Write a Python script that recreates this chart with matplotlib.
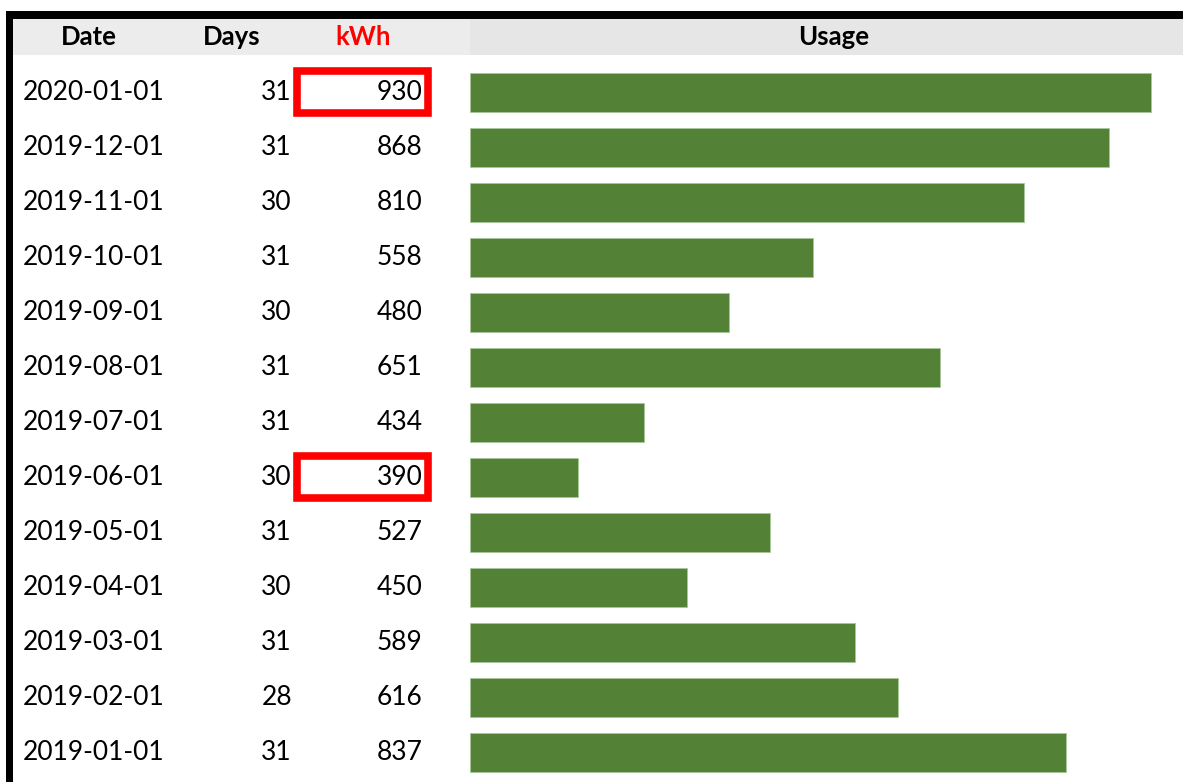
import matplotlib
matplotlib.use("Agg")
import matplotlib.pyplot as plt
from matplotlib.patches import Rectangle
import numpy as np

# ---- data ----
dates = ["2020-01-01", "2019-12-01", "2019-11-01", "2019-10-01", "2019-09-01",
         "2019-08-01", "2019-07-01", "2019-06-01", "2019-05-01", "2019-04-01",
         "2019-03-01", "2019-02-01", "2019-01-01"]
days = [31, 31, 30, 31, 30, 31, 31, 30, 31, 30, 31, 28, 31]
kwh = [930, 868, 810, 558, 480, 651, 434, 390, 527, 450, 589, 616, 837]
# bar lengths (percent of the longest bar)
usage_bar = [100.0, 93.8, 81.4, 50.3, 38.0, 69.0, 25.6, 15.9, 44.1, 31.8, 56.5, 62.8, 87.5]
headers = ["Date", "Days", "kWh", "Usage"]

W, H = 1183, 782
FONT = ["Lato", "DejaVu Sans"]
fig = plt.figure(figsize=(W / 100, H / 100), dpi=100)

# overlay axes in pixel layout coordinates
ov = fig.add_axes([0, 0, 1, 1])
ov.set_xlim(0, W)
ov.set_ylim(H, 0)
ov.axis("off")

row0, pitch = 92.0, 55.0
n = len(dates)

# header band
ov.add_patch(Rectangle((13.3, 19), 470 - 13.3, 36, facecolor="#ececec", edgecolor="none", zorder=1))
ov.add_patch(Rectangle((470, 19), W - 470, 36, facecolor="#e6e6e6", edgecolor="none", zorder=1))
# black frame
ov.add_patch(Rectangle((5.7, 10.7), W - 5.7, 8.3, facecolor="black", edgecolor="none", zorder=3))
ov.add_patch(Rectangle((5.7, 10.7), 7.6, H - 10.7, facecolor="black", edgecolor="none", zorder=3))

hy = 37
fs_h = 18.5
ov.text(88.5, hy, headers[0], ha="center", va="center", fontsize=fs_h, fontweight="bold", family=FONT, color="black", zorder=4)
ov.text(232, hy, headers[1], ha="center", va="center", fontsize=fs_h, fontweight="bold", family=FONT, color="black", zorder=4)
ov.text(363, hy, headers[2], ha="center", va="center", fontsize=fs_h, fontweight="bold", family=FONT, color="#ff0000", zorder=4)
ov.text(834, hy, headers[3], ha="center", va="center", fontsize=fs_h, fontweight="bold", family=FONT, color="black", zorder=4)

fs = 19
for i in range(n):
    y = row0 + pitch * i + 0.8
    ov.text(22.7, y, dates[i], ha="left", va="center", fontsize=fs, family=FONT, color="black", zorder=4)
    ov.text(292, y, str(days[i]), ha="right", va="center", fontsize=fs, family=FONT, color="black", zorder=4)
    ov.text(422.5, y, str(kwh[i]), ha="right", va="center", fontsize=fs, family=FONT, color="black", zorder=4)

# red boxes around max and min kWh
lw_px = 7.6
for idx in (int(np.argmax(kwh)), int(np.argmin(kwh))):
    yc = row0 + pitch * idx
    x0, x1 = 293 + lw_px / 2, 432 - lw_px / 2
    y0, y1 = yc - 24.5 + lw_px / 2, yc + 24.5 - lw_px / 2
    ov.add_patch(Rectangle((x0, y0), x1 - x0, y1 - y0, facecolor="none",
                           edgecolor="#ff0000", linewidth=lw_px * 72 / 100, zorder=5))

# bar axes
bx0 = 470
bax = fig.add_axes([bx0 / W, 0, (W - bx0) / W, 1])
bax.patch.set_alpha(0)
bax.set_xlim(0, 100 * (W - bx0) / 681.0)
bax.set_ylim((H - row0) / pitch, -row0 / pitch)
bax.axis("off")
bax.barh(np.arange(n), usage_bar, height=39 / pitch, color="#538135",
         edgecolor="#a9c79b", linewidth=0.6, zorder=2)

fig.savefig("out.png", dpi=100)
